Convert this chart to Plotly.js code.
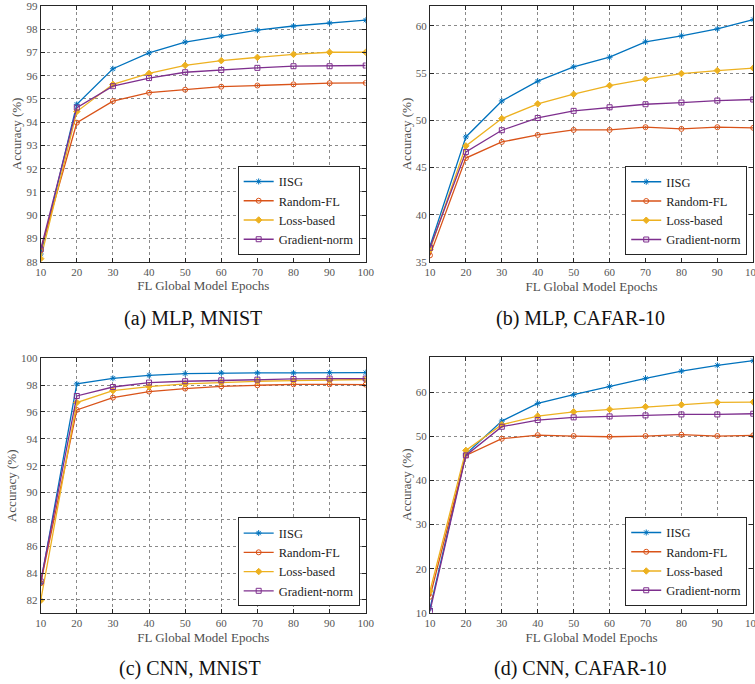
<!DOCTYPE html>
<html>
<head>
<meta charset="utf-8">
<script src="https://cdn.plot.ly/plotly-3.0.1.min.js"></script>
<style>html,body{margin:0;padding:0;background:#fff}#chart{width:755px;height:684px}</style>
</head>
<body>
<div id="chart"></div>
<script>
const epochs = [10, 20, 30, 40, 50, 60, 70, 80, 90, 100];
const seriesNames = ["IISG", "Random-FL", "Loss-based", "Gradient-norm"];

// (a) MLP, MNIST
const mlpMnistIISG = [88.33, 94.77, 96.30, 96.98, 97.45, 97.71, 97.96, 98.14, 98.27, 98.39];
const mlpMnistRandom = [88.50, 93.98, 94.91, 95.27, 95.40, 95.53, 95.58, 95.63, 95.68, 95.69];
const mlpMnistLoss = [88.13, 94.46, 95.63, 96.10, 96.45, 96.65, 96.79, 96.92, 97.01, 97.01];
const mlpMnistGrad = [88.53, 94.63, 95.55, 95.90, 96.15, 96.25, 96.34, 96.41, 96.41, 96.44];

// (b) MLP, CAFAR-10
const mlpCifarIISG = [36.66, 48.24, 52.05, 54.14, 55.66, 56.68, 58.31, 58.94, 59.68, 60.67];
const mlpCifarRandom = [35.70, 46.00, 47.71, 48.45, 48.98, 48.98, 49.27, 49.09, 49.27, 49.20];
const mlpCifarLoss = [36.30, 47.29, 50.18, 51.74, 52.76, 53.68, 54.35, 54.95, 55.27, 55.52];
const mlpCifarGrad = [36.50, 46.65, 48.95, 50.25, 51.00, 51.38, 51.70, 51.88, 52.09, 52.20];

// (c) CNN, MNIST
const cnnMnistIISG = [83.24, 98.09, 98.51, 98.73, 98.86, 98.91, 98.91, 98.91, 98.93, 98.93];
const cnnMnistRandom = [83.24, 96.15, 97.07, 97.52, 97.74, 97.91, 97.99, 98.06, 98.06, 98.04];
const cnnMnistLoss = [81.95, 96.70, 97.59, 97.89, 98.09, 98.21, 98.29, 98.34, 98.36, 98.42];
const cnnMnistGrad = [83.37, 97.19, 97.86, 98.19, 98.29, 98.36, 98.41, 98.46, 98.49, 98.49];

// (d) CNN, CAFAR-10
const cnnCifarIISG = [10.98, 46.00, 53.50, 57.50, 59.47, 61.36, 63.18, 64.84, 66.13, 67.19];
const cnnCifarRandom = [13.63, 45.70, 49.49, 50.30, 50.10, 49.94, 50.10, 50.40, 50.10, 50.25];
const cnnCifarLoss = [14.90, 46.84, 52.67, 54.64, 55.60, 56.14, 56.75, 57.20, 57.73, 57.80];
const cnnCifarGrad = [10.38, 45.70, 52.21, 53.72, 54.33, 54.55, 54.78, 55.00, 55.00, 55.16];

const captions = ["(a) MLP, MNIST", "(b) MLP, CAFAR-10", "(c) CNN, MNIST", "(d) CNN, CAFAR-10"];
const xTitle = "FL Global Model Epochs";
const yTitle = "Accuracy (%)";

const colors = ["#0072BD", "#D95319", "#EDB120", "#7E2F8E"];
const symbols = ["asterisk-open", "circle-open", "diamond", "square-open"];
const msizes = [5, 5, 5, 5];

const panels = [
  {data: [mlpMnistIISG, mlpMnistRandom, mlpMnistLoss, mlpMnistGrad], xd: [0.0539, 0.4844], yd: [0.6174, 0.9912], yr: [88, 99], dt: 1, cx: 192.5, cy: 318},
  {data: [mlpCifarIISG, mlpCifarRandom, mlpCifarLoss, mlpCifarGrad], xd: [0.5695, 0.9977], yd: [0.6170, 0.9912], yr: [35, 62.1], dt: 5, cx: 580, cy: 318},
  {data: [cnnMnistIISG, cnnMnistRandom, cnnMnistLoss, cnnMnistGrad], xd: [0.0539, 0.4844], yd: [0.1034, 0.4762], yr: [81, 100], dt: 2, cx: 190, cy: 668},
  {data: [cnnCifarIISG, cnnCifarRandom, cnnCifarLoss, cnnCifarGrad], xd: [0.5695, 0.9977], yd: [0.1042, 0.4785], yr: [10, 68.1], dt: 10, cx: 580, cy: 668}
];

const font = "Liberation Serif";
const traces = [];
const layout = {
  width: 755, height: 684,
  margin: {l: 0, r: 0, t: 0, b: 0},
  paper_bgcolor: "#fff", plot_bgcolor: "#fff",
  font: {family: font, color: "#333"},
  showlegend: true,
  annotations: []
};

panels.forEach((p, i) => {
  const n = i + 1;
  const xa = n === 1 ? "x" : "x" + n;
  const ya = n === 1 ? "y" : "y" + n;
  const lg = n === 1 ? "legend" : "legend" + n;
  p.data.forEach((vals, k) => {
    traces.push({
      x: epochs, y: vals, name: seriesNames[k], type: "scatter", mode: "lines+markers",
      xaxis: xa, yaxis: ya, legend: lg,
      line: {color: colors[k], width: 1.3},
      marker: {symbol: symbols[k], size: msizes[k], color: colors[k], line: {color: colors[k], width: 1}}
    });
  });
  const axCommon = {
    showline: true, linecolor: "#262626", linewidth: 1, mirror: "ticks",
    ticks: "inside", ticklen: 4, tickcolor: "#262626",
    showgrid: true, gridcolor: "#8a8a8a", griddash: "dot", gridwidth: 1,
    zeroline: false, ticklabeloverflow: "allow",
    tickfont: {family: font, size: 11, color: "#555"}
  };
  layout["xaxis" + (n === 1 ? "" : n)] = Object.assign({}, axCommon, {
    domain: p.xd, anchor: ya, range: [10, 100], dtick: 10, tick0: 10,
    title: {text: xTitle, font: {family: font, size: 13, color: "#4d4d4d"}, standoff: 4}
  });
  layout["yaxis" + (n === 1 ? "" : n)] = Object.assign({}, axCommon, {
    domain: p.yd, anchor: xa, range: p.yr, dtick: p.dt, tick0: 0,
    title: {text: yTitle, font: {family: font, size: 13, color: "#4d4d4d"}, standoff: 1}
  });
  layout[lg] = {
    x: p.xd[1] - 0.008, y: p.yd[0] + 0.01, xanchor: "right", yanchor: "bottom",
    bgcolor: "#fff", bordercolor: "#262626", borderwidth: 1,
    font: {family: font, size: 12.5, color: "#222"},
    itemwidth: 30, tracegroupgap: 0
  };
  layout.annotations.push({
    text: captions[i], xref: "paper", yref: "paper", x: p.cx / 755, y: 1 - p.cy / 684,
    xanchor: "center", yanchor: "middle", showarrow: false,
    font: {family: font, size: 20, color: "#111"}
  });
});

Plotly.newPlot("chart", traces, layout, {displayModeBar: false, staticPlot: true});
</script>
</body>
</html>
